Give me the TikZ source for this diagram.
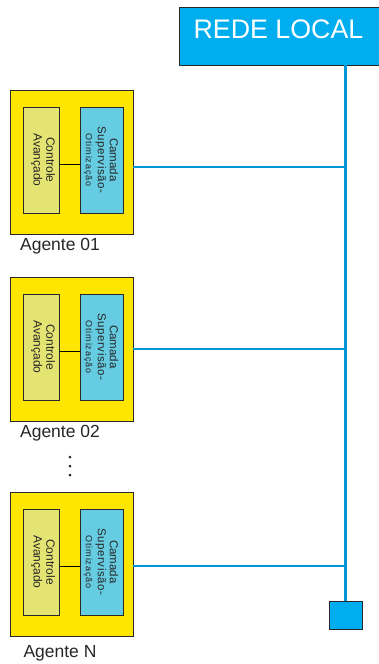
\documentclass[tikz,border=0pt]{standalone}
\usepackage{fontspec}
\setmainfont{Liberation Sans}
\newfontfamily\spaced[LetterSpace=5]{Liberation Sans}
\newfontfamily\spacedb[LetterSpace=9]{Liberation Sans}
\definecolor{agyellow}{RGB}{255,230,0}
\definecolor{ctrlfill}{RGB}{228,228,115}
\definecolor{camfill}{RGB}{102,204,226}
\definecolor{netfill}{RGB}{0,174,239}
\definecolor{netline}{RGB}{0,150,214}
\definecolor{edge}{RGB}{40,40,40}
\begin{document}
\begin{tikzpicture}[x=1pt,y=-1pt,
  agentbox/.style={draw=edge,line width=0.8pt,fill=agyellow},
  ctrlbox/.style={draw=edge,line width=0.8pt,fill=ctrlfill,inner sep=0pt},
  cambox/.style={draw=edge,line width=0.8pt,fill=camfill,inner sep=0pt},
  link/.style={draw=black,line width=0.8pt},
  netlink/.style={draw=netline,line width=2.6pt},
  lbl/.style={font=\fontsize{17.5}{19}\selectfont,text=black!85},
  rtext/.style={rotate=-90,align=center,text=black!85},
  dot/.style={circle,fill=black!85,inner sep=0pt,minimum size=3pt}]
\useasboundingbox (0,0) rectangle (379,664);
\clip (0,0) rectangle (379,664);
% network box
\node[draw=edge,line width=1pt,fill=netfill,minimum width=215pt,minimum height=58pt,anchor=north west,inner sep=0pt] (net) at (179,7) {};
\node[text=white,font=\fontsize{26.8}{28}\selectfont] (nettext) at (278.5,29) {REDE LOCAL};
\node[draw=edge,line width=0.8pt,fill=netfill,minimum width=33pt,minimum height=28pt,inner sep=0pt] (term) at (345.5,615) {};
\coordinate (top) at (345.5,65);
\draw[netlink] (top) -- (term.north);
% agents
\foreach \id/\ya/\yb/\bus/\ly/\lab in {1/90/234/167/246/Agente 01, 2/277/421/349/433/Agente 02, 3/492/636/566/653/Agente N}{
  \pgfmathsetmacro{\ym}{(\ya+\yb)/2}
  \pgfmathsetmacro{\yi}{\ym-2}
  \node[agentbox,minimum width=123pt,minimum height=144pt,inner sep=0pt] (ag\id) at (71.5,\ym) {};
  \node[ctrlbox,minimum width=36pt,minimum height=106pt] (ctrl\id) at (41,\yi) {};
  \node[cambox,minimum width=43pt,minimum height=106pt] (cam\id) at (101.5,\yi) {};
  \node[rtext,font=\fontsize{12}{12.7}\selectfont] (ctrltxt\id) at (43,\yi) {Controle\\Avançado};
  \node[rtext] (camtxt\id) at (101,\yi) {{\fontsize{11.5}{14}\selectfont Camada}\\{\spaced\fontsize{11.5}{13}\selectfont Supervisão-}\\{\spacedb\fontsize{9}{11.5}\selectfont Otimização}};
  \coordinate (cl\id) at (41,\yi+4);
  \draw[link] (ctrl\id.east |- cl\id) -- (cam\id.west |- cl\id);
  \coordinate (bus\id) at (345.5,\bus);
  \draw[netlink] (ag\id.east |- bus\id) -- (bus\id);
  \node[lbl] (lab\id) at (60,\ly) {\lab};
}
\node[dot] (d1) at (70,457) {};
\node[dot] (d2) at (70,466) {};
\node[dot] (d3) at (70,475) {};
\end{tikzpicture}
\end{document}
